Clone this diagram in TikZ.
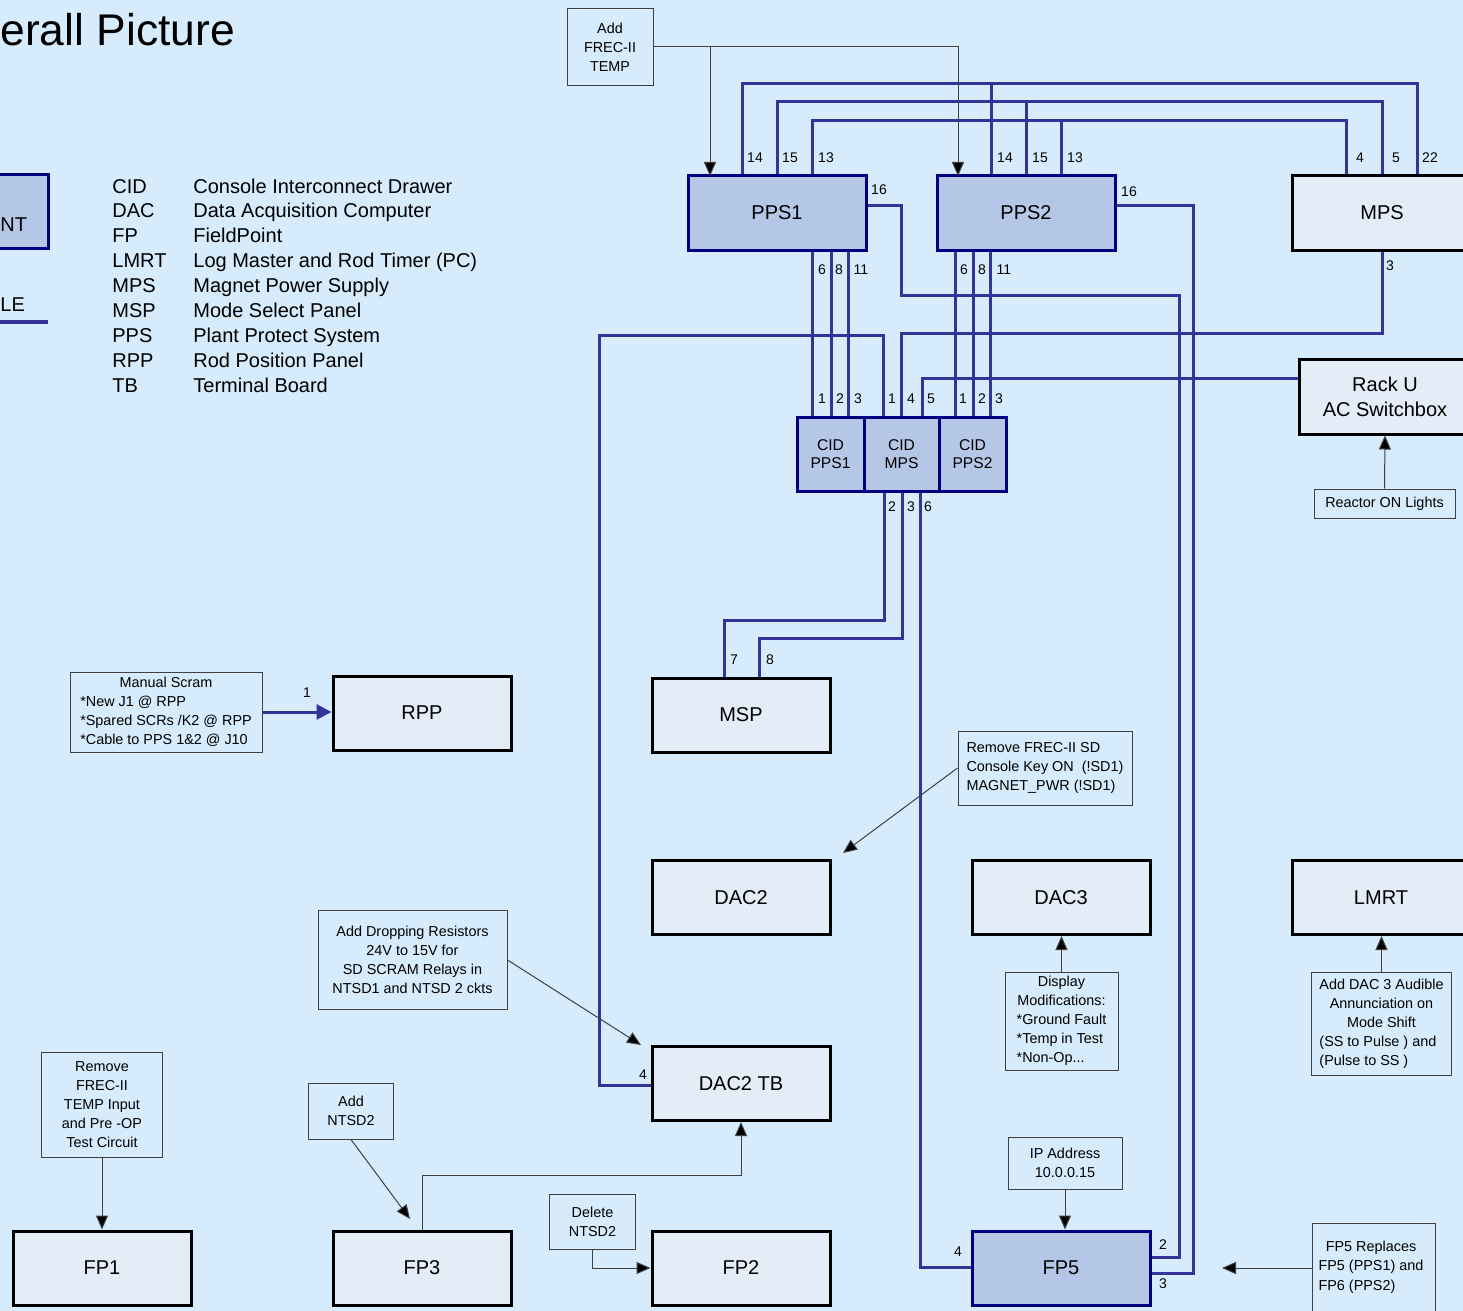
\documentclass[tikz,border=0pt]{standalone}
\usepackage{fontspec}
\setmainfont{Liberation Sans}
\usetikzlibrary{arrows.meta,calc}
\definecolor{bgc}{HTML}{D6EBFB}
\definecolor{boxfill}{HTML}{E4ECF7}
\definecolor{pfill}{HTML}{B4C7E7}
\definecolor{navyc}{HTML}{000080}
\definecolor{wirec}{HTML}{333399}
\definecolor{notec}{HTML}{404040}
\pgfdeclarelayer{back}
\pgfsetlayers{back,main}
\tikzset{
 box/.style={draw=black, line width=1.5pt, fill=boxfill, minimum width=89pt, minimum height=37pt, inner sep=0pt, align=center, font=\fontsize{10}{12.5}\selectfont},
 pbox/.style={box, draw=navyc, fill=pfill},
 cidbox/.style={draw=navyc, line width=1.5pt, fill=pfill, minimum height=37pt, inner sep=0pt, align=center, font=\fontsize{7.8}{9}\selectfont},
 note/.style={draw=notec, line width=0.5pt, fill=bgc, inner sep=0pt, align=center, font=\fontsize{7.2}{9.5}\selectfont},
 arr/.style={draw=notec, line width=0.5pt, -{Triangle[length=7pt,width=6pt,fill=black]}},
 wire/.style={draw=wirec, line width=1.5pt},
 pin/.style={inner sep=0pt, font=\fontsize{7}{8}\selectfont},
 lg/.style={anchor=base west, inner sep=0pt, font=\fontsize{10}{12}\selectfont},
}
\begin{document}
\begin{tikzpicture}[x=0.5pt,y=-0.5pt]
\useasboundingbox (0,0) rectangle (1463,1311);

% title and legend
\node[anchor=base west, inner sep=0pt, font=\fontsize{22.2}{26}\selectfont] (title) at (0,46) {erall Picture};
\node[pbox, minimum width=54pt] (legbox) at (-6,211.5) {};
\node[anchor=base west, inner sep=0pt, font=\fontsize{10}{12}\selectfont] (legnt) at (0,231) {NT};
\node[anchor=base west, inner sep=0pt, font=\fontsize{10}{12}\selectfont] (legle) at (0,311) {LE};
\coordinate (lgA) at (-10,322);
\coordinate (lgB) at (48,322);
\draw[wire, line width=2pt] (lgA) -- (lgB);

\foreach \ab/\txt [count=\i from 0] in {CID/Console Interconnect Drawer, DAC/Data Acquisition Computer, FP/FieldPoint, LMRT/Log Master and Rod Timer (PC), MPS/Magnet Power Supply, MSP/Mode Select Panel, PPS/Plant Protect System, RPP/Rod Position Panel, TB/Terminal Board}{
  \node[lg] (ab\i) at (112,193+24.9*\i) {\ab};
  \node[lg] (tx\i) at (193,193+24.9*\i) {\txt};
}

% main boxes
\node[pbox] (pps1) at (777,213) {PPS1};
\node[pbox] (pps2) at (1026,213) {PPS2};
\node[box, minimum width=90pt] (mps) at (1382,213) {MPS};
\node[box, minimum width=86pt, minimum height=37.5pt, font=\fontsize{10}{12.5}\selectfont] (rack) at (1385,396.5) {Rack U\\AC Switchbox};
\node[cidbox, minimum width=33.5pt] (cid1) at (830.5,454) {CID\\PPS1};
\node[cidbox, minimum width=37.5pt] (cidm) at (901.5,454) {CID\\MPS};
\node[cidbox, minimum width=33.5pt] (cid2) at (972.5,454) {CID\\PPS2};
\node[box] (msp) at (741,715) {MSP};
\node[box] (rpp) at (422,713) {RPP};
\node[box] (dac2) at (741,897.5) {DAC2};
\node[box] (dac3) at (1061,897.5) {DAC3};
\node[box] (lmrt) at (1381,897.5) {LMRT};
\node[box] (dac2tb) at (741,1083.5) {DAC2 TB};
\node[box] (fp1) at (102,1268) {FP1};
\node[box] (fp3) at (422,1268) {FP3};
\node[box] (fp2) at (741,1268) {FP2};
\node[pbox] (fp5) at (1061,1268) {FP5};

% notes
\node[note, minimum width=43pt, minimum height=38.5pt] (nfrec) at (610,47) {Add\\FREC-II\\TEMP};
\node[note, minimum width=70.5pt, minimum height=14.5pt] (nreact) at (1384.5,503.5) {Reactor ON Lights};
\node[note, minimum width=96pt, minimum height=40pt] (nscram) at (166,712) {\begin{tabular}{@{}l@{}}\multicolumn{1}{@{}c@{}}{Manual Scram}\\{*}New J1 @ RPP\\{*}Spared SCRs /K2 @ RPP\\{*}Cable to PPS 1\&2 @ J10\end{tabular}};
\node[note, minimum width=87pt, minimum height=37pt, align=left] (nsd) at (1045,768) {Remove FREC-II SD\\Console Key ON\ \ (!SD1)\\MAGNET\_PWR (!SD1)};
\node[note, minimum width=56.5pt, minimum height=49pt] (ndisp) at (1061.5,1021) {\begin{tabular}{@{}l@{}}\multicolumn{1}{@{}c@{}}{Display}\\\multicolumn{1}{@{}c@{}}{Modifications:}\\{*}Ground Fault\\{*}Temp in Test\\{*}Non-Op...\end{tabular}};
\node[note, minimum width=70pt, minimum height=51.5pt] (nlmrt) at (1381.5,1024) {\begin{tabular}{@{}l@{}}\multicolumn{1}{@{}c@{}}{Add DAC 3 Audible}\\\multicolumn{1}{@{}c@{}}{Annunciation on}\\\multicolumn{1}{@{}c@{}}{Mode Shift}\\(SS to Pulse ) and\\(Pulse to SS )\end{tabular}};
\node[note, minimum width=94.5pt, minimum height=49.5pt] (ndrop) at (412.5,960) {Add Dropping Resistors\\24V to 15V for\\SD SCRAM Relays in\\NTSD1 and NTSD 2 ckts};
\node[note, minimum width=60.5pt, minimum height=52.5pt] (ntemp) at (102,1104.5) {Remove\\FREC-II\\TEMP Input\\and Pre -OP\\Test Circuit};
\node[note, minimum width=42.5pt, minimum height=28pt] (nadd) at (351,1111) {Add\\NTSD2};
\node[note, minimum width=43pt, minimum height=27.5pt] (ndel) at (592.5,1221.5) {Delete\\NTSD2};
\node[note, minimum width=57pt, minimum height=26pt] (nip) at (1065,1163) {IP Address\\10.0.0.15};
\node[note, minimum width=61.5pt, minimum height=45pt] (nrepl) at (1373.5,1268) {};
\node[inner sep=0pt, font=\fontsize{7.2}{9.8}\selectfont] (nrepltx) at (1371,1267) {\begin{tabular}{@{}l@{}}\multicolumn{1}{@{}c@{}}{FP5 Replaces}\\FP5 (PPS1) and\\FP6 (PPS2)\end{tabular}};

% pin coordinates
\coordinate (p1a) at (742,176); \coordinate (p1b) at (777,176); \coordinate (p1c) at (812,176);
\coordinate (p2a) at (991,176); \coordinate (p2b) at (1026,176); \coordinate (p2c) at (1061,176);
\coordinate (m4) at (1346,176); \coordinate (m5) at (1382,176); \coordinate (m22) at (1417,176);
\coordinate (m3) at (1382,250);
\coordinate (p1e) at (866,206); \coordinate (p2e) at (1115,206);
\coordinate (rk) at (1299,378);
\coordinate (cm1) at (883,417); \coordinate (cm4) at (901.5,417); \coordinate (cm5) at (922.5,417);
\coordinate (cb2) at (884,491); \coordinate (cb3) at (902,491); \coordinate (cb6) at (920,491);
\coordinate (msp7) at (724,678); \coordinate (msp8) at (759,678);
\coordinate (tb4) at (652,1085);
\coordinate (f5a) at (972,1267); \coordinate (f5b) at (1150,1257); \coordinate (f5c) at (1150,1273);

\begin{pgfonlayer}{back}
\fill[bgc] (-20,-20) rectangle (1483,1331);
\draw[wire] (p1a) -- ++(0,-92) -| (m22);
\draw[wire] (p2a) -- ++(0,-92);
\draw[wire] (p1b) -- ++(0,-74) -| (m5);
\draw[wire] (p2b) -- ++(0,-74);
\draw[wire] (p1c) -- ++(0,-55) -| (m4);
\draw[wire] (p2c) -- ++(0,-55);
\draw[wire] (p1e) -| (901,295) -| (1179,1257) -- (f5b);
\draw[wire] (p2e) -| (1193,1273) -- (f5c);
\draw[wire] (m3) -- ++(0,83) -| (cm4);
\draw[wire] (rk) -| (cm5);
\draw[wire] (cm1) |- (599,335) |- (tb4);
\foreach \x in {812.5,831,848.5} \draw[wire] (pps1.south -| \x,0) -- (cid1.north -| \x,0);
\foreach \x in {955,973,990.5} \draw[wire] (pps2.south -| \x,0) -- (cid2.north -| \x,0);
\draw[wire] (cb2) -- ++(0,129) -| (msp7);
\draw[wire] (cb3) -- ++(0,147) -| (msp8);
\draw[wire] (cb6) |- (f5a);
\end{pgfonlayer}

% note connectors
\coordinate (fa) at (710,176); \coordinate (fb) at (958,176);
\draw[arr] (nfrec.east) -| (fb);
\draw[arr] (nfrec.east -| fa) -- (fa);
\draw[arr] (nreact.north) -- (rack.south);
\draw[wire, -{Triangle[length=7.5pt,width=7.5pt]}] (nscram.east) -- (nscram.east -| rpp.west);
\coordinate (sdend) at (843,853);
\draw[arr] (nsd.west) -- (sdend);
\draw[arr] (ndisp.north) -- (ndisp.north |- dac3.south);
\draw[arr] (nlmrt.north) -- (nlmrt.north |- lmrt.south);
\coordinate (dropend) at (641,1045);
\draw[arr] (ndrop.east) -- (dropend);
\draw[arr] (ntemp.south) -- (fp1.north);
\coordinate (addend) at (410,1219);
\draw[arr] (nadd.south) -- (addend);
\coordinate (tbmid) at (741,1175);
\draw[arr] (fp3.north) |- (tbmid) -- (dac2tb.south);
\draw[arr] (ndel.south) |- (fp2.west);
\draw[arr] (nip.south) -- (nip.south |- fp5.north);
\coordinate (replend) at (1222,1268);
\draw[arr] (nrepl.west) -- (replend);

% pin labels
\foreach \t/\px/\py [count=\k] in {14/755/158, 15/790/158, 13/826/158, 14/1005/158, 15/1040/158, 13/1075/158, 4/1360/158, 5/1396/158, 22/1430/158, 16/879/190, 16/1129/192, 6/822/270, 8/839/270, 11/861/270, 6/964/270, 8/982/270, 11/1004/270, 3/1390/266, 1/822/399, 2/840/399, 3/858/399, 1/892/399, 4/911/399, 5/931/399, 1/963/399, 2/982/399, 3/999/399, 2/892/507, 3/911/507, 6/928/507, 7/734/660, 8/770/660, 1/307/693, 4/643/1075, 4/958/1252, 2/1163/1245, 3/1163/1284}{
  \node[pin] (pl\k) at (\px,\py) {\t};
}
\end{tikzpicture}
\end{document}
